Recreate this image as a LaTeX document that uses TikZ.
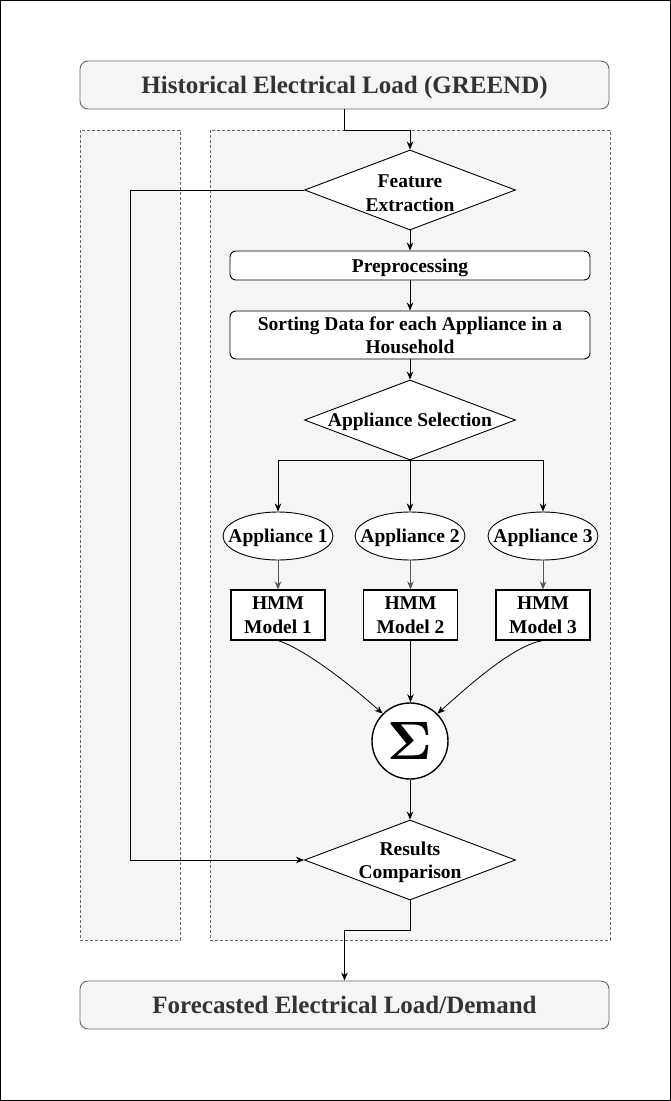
\documentclass[tikz,border=0pt]{standalone}
\usepackage{graphicx}
\usepackage{fontspec}
\setmainfont{Liberation Serif}
\usetikzlibrary{shapes.geometric,arrows.meta}
\definecolor{panelfill}{HTML}{F5F5F5}
\definecolor{panelline}{HTML}{666666}
\definecolor{titletext}{HTML}{333333}
\definecolor{softline}{HTML}{555555}
\begin{document}
\begin{tikzpicture}[x=1pt,y=-1pt,
  panel/.style={draw=panelline, fill=panelfill, line width=0.7pt, dash pattern=on 3pt off 2pt, inner sep=0pt},
  iobox/.style={draw=panelline, fill=panelfill, rounded corners=8pt, line width=0.9pt, inner sep=0pt,
    minimum width=529pt, minimum height=48pt, text=titletext, text depth=0pt,
    font=\bfseries\fontsize{25}{29}\selectfont},
  procbox/.style={draw, fill=white, rounded corners=6pt, line width=0.9pt, inner sep=0pt, text depth=0pt,
    minimum width=360pt, align=center, font=\bfseries\fontsize{19.5}{23.5}\selectfont},
  decbox/.style={diamond, draw, fill=white, line width=0.9pt, inner sep=0pt, aspect=2.6, text depth=0pt,
    minimum width=211pt, minimum height=80pt, align=center, font=\bfseries\fontsize{19.5}{23.5}\selectfont},
  appbox/.style={ellipse, draw, fill=white, line width=0.9pt, inner sep=0pt, text depth=0pt,
    minimum width=110pt, minimum height=48pt, font=\bfseries\fontsize{19.5}{23.5}\selectfont},
  hmmbox/.style={rectangle, draw, fill=white, line width=1.1pt, inner sep=0pt, text depth=0pt,
    minimum width=94pt, minimum height=50pt, align=center, font=\bfseries\fontsize{19.5}{23.5}\selectfont},
  sumbox/.style={circle, draw, fill=white, line width=1.4pt, inner sep=0pt, minimum size=76pt},
  arr/.style={line width=0.9pt, -{Stealth[length=8pt,width=6.5pt,inset=2.5pt]}},
]
\useasboundingbox (0,0) rectangle (671,1101);
\draw[line width=1pt] (0.5,0.5) rectangle (670,1100);

% panels
\node[panel, minimum width=100pt, minimum height=810pt] (lpanel) at (130,535) {};
\node[panel, minimum width=400pt, minimum height=810pt] (rpanel) at (410,535) {};

% top and bottom boxes
\node[iobox] (top) at (344.5,85) {Historical Electrical Load (GREEND)};
\node[iobox] (bot) at (344.5,1005) {Forecasted Electrical Load/Demand};

% flow
\node[decbox, text height=42pt] (fe) at (410,190) {Feature\\Extraction};
\node[procbox, minimum height=29pt] (pre) at (410,265.5) {Preprocessing};
\node[procbox, minimum height=48pt] (sort) at (410,335) {Sorting Data for each Appliance in a\\Household};
\node[decbox] (as) at (410,420) {Appliance Selection};

\node[appbox] (a1) at (278,536) {\makebox[0pt]{Appliance 1}};
\node[appbox] (a2) at (410,536) {\makebox[0pt]{Appliance 2}};
\node[appbox] (a3) at (543,536) {\makebox[0pt]{Appliance 3}};

\node[hmmbox] (h1) at (278,615) {HMM\\Model 1};
\node[hmmbox] (h2) at (410.5,615) {HMM\\Model 2};
\node[hmmbox] (h3) at (543,615) {HMM\\Model 3};

\node[sumbox] (sum) at (410,741) {\scalebox{5.4}{\boldmath$\Sigma$}};

\node[decbox] (rc) at (410,860) {Results\\Comparison};

% connectors
\coordinate (k1) at (410,130);
\coordinate (k2) at (410,930);
\coordinate (fbtop) at (130,190);
\coordinate (fbbot) at (130,860);

\draw[arr] (top.south) |- (k1) -- (fe.north);
\draw[arr] (fe.south) -- (pre.north);
\draw[arr] (pre.south) -- (sort.north);
\draw[arr] (sort.south) -- (as.north);
\draw[arr] (as.south) -| (a1.north);
\draw[arr] (as.south) -- (a2.north);
\draw[arr] (as.south) -| (a3.north);
\draw[arr, draw=softline] (a1.south) -- (h1.north);
\draw[arr, draw=softline] (a2.south) -- (h2.north |- a2.south) -- (h2.north);
\draw[arr, draw=softline] (a3.south) -- (h3.north);
\draw[arr, line width=0.8pt] (h1.south) .. controls (302,648) and (345,680) .. (sum.135);
\draw[arr] (h2.south) -- (h2.south |- sum.north);
\draw[arr, line width=0.8pt] (h3.south) .. controls (515,645) and (475,680) .. (sum.45);
\draw[arr] (sum.south) -- (rc.north);
\draw[arr] (fe.west) -- (fbtop) -- (fbbot) -- (rc.west);
\draw[arr] (rc.south) -- (k2) -| (bot.north);
\end{tikzpicture}
\end{document}
